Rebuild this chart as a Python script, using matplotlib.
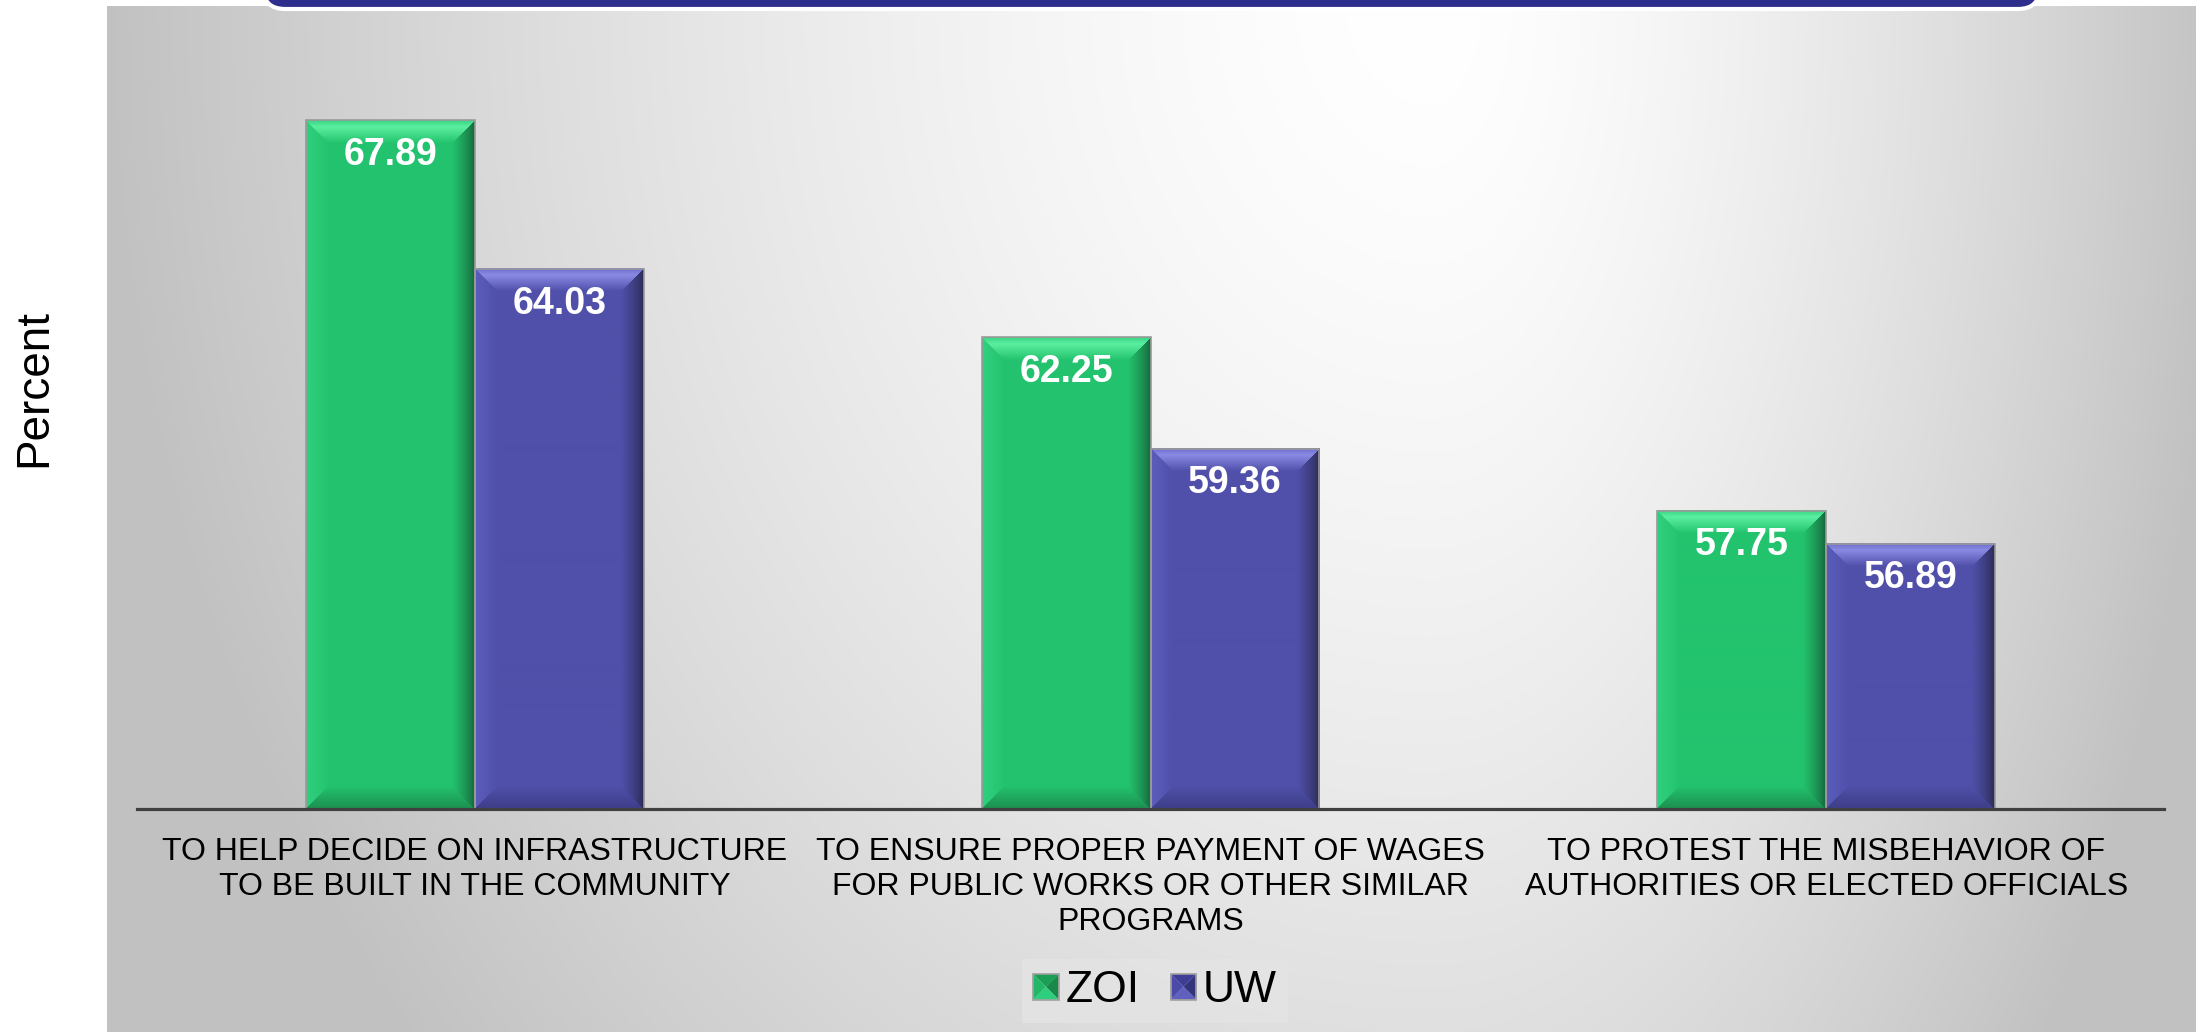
import numpy as np
import matplotlib
matplotlib.use('Agg')
import matplotlib.pyplot as plt
from matplotlib.patches import Polygon, FancyBboxPatch, Rectangle
from matplotlib.legend_handler import HandlerBase
from matplotlib.colors import to_rgb

# ---------------- data ----------------
categories = ["TO HELP DECIDE ON INFRASTRUCTURE\nTO BE BUILT IN THE COMMUNITY",
              "TO ENSURE PROPER PAYMENT OF WAGES\nFOR PUBLIC WORKS OR OTHER SIMILAR\nPROGRAMS",
              "TO PROTEST THE MISBEHAVIOR OF\nAUTHORITIES OR ELECTED OFFICIALS"]
series_names = ["ZOI", "UW"]
zoi_values = [67.89, 62.25, 57.75]
uw_values = [64.03, 59.36, 56.89]
y_label = "Percent"

plt.rcParams['font.family'] = ['Liberation Sans', 'DejaVu Sans']

W, H = 2196, 1032
fig = plt.figure(figsize=(W / 100, H / 100), dpi=100)
fig.patch.set_facecolor('white')

# ---------------- background panel with gradient ----------------
px0, ptop = 107, 6
bg = fig.add_axes([px0 / W, 0, 1 - px0 / W, 1 - ptop / H])
xs = np.arange(px0, W)
ys = np.arange(ptop, H)
X, Y = np.meshgrid(xs, ys)
cx = 1430
dx = np.where(X < cx, (cx - X) / 1330.0, (X - cx) / 800.0)
dy = Y / 1032.0 * 0.63
d = np.clip(np.sqrt(dx ** 2 + dy ** 2), 0, 1)
val = (255 - 62 * d ** 1.5) / 255.0
img = np.dstack([val] * 3)
bg.imshow(img, aspect='auto', extent=[0, 1, 0, 1], interpolation='bilinear')
bg.axis('off')

# ---------------- title box (cut off at top) ----------------
tb = FancyBboxPatch((263 / 100, (H - 9) / 100), (2040 - 263) / 100, 1.0,
                    boxstyle="round,pad=0,rounding_size=0.22",
                    transform=fig.dpi_scale_trans, facecolor='#2E2E8C',
                    edgecolor='white', linewidth=3, zorder=5)
fig.add_artist(tb)

# ---------------- main axes ----------------
ax = fig.add_axes([137 / W, 1 - 809 / H, (2164 - 137) / W, (809 - 39) / H])
ax.set_facecolor('none')
ymin, ymax = 50, 70
ax.set_xlim(-0.5, 2.5)
ax.set_ylim(ymin, ymax)

x = np.arange(len(categories))
bw = 0.25
green = dict(base='#23C36E', top0='#38D483', topHi='#5BEFA0', right='#155F37',
             bottom='#1C8E50', left='#30D07F')
blue = dict(base='#5050AA', top0='#6A6ACB', topHi='#8A8AE4', right='#28284F',
            bottom='#3D3D88', left='#5C5CBC')

bars_zoi = ax.bar(x - bw / 2, zoi_values, bw, bottom=0, color=green['base'],
                  edgecolor='none', zorder=2)
bars_uw = ax.bar(x + bw / 2, uw_values, bw, bottom=0, color=blue['base'],
                 edgecolor='none', zorder=2)

BEV = 23  # bevel size in pixels


def lerp(c0, c1, t):
    c0 = np.array(to_rgb(c0)); c1 = np.array(to_rgb(c1))
    return c0[None, None, :] * (1 - t[..., None]) + c1[None, None, :] * t[..., None]


def bevel_image(bar, cols):
    x0 = bar.get_x()
    x1 = x0 + bar.get_width()
    y0 = ymin
    y1 = bar.get_height()
    p0 = ax.transData.transform((x0, y0))
    p1 = ax.transData.transform((x1, y1))
    wpx = int(round(p1[0] - p0[0]))
    hpx = int(round(p1[1] - p0[1]))
    u = np.arange(wpx) + 0.5
    v = np.arange(hpx) + 0.5  # from top
    U, V = np.meshgrid(u, v)
    dl, dr, dt, db = U, wpx - U, V, hpx - V
    stack = np.stack([dt, dr, db, dl])
    which = np.argmin(stack, axis=0)
    dmin = np.min(stack, axis=0)
    t = np.clip(dmin / BEV, 0, 1)
    base = np.array(to_rgb(cols['base']))
    out = np.broadcast_to(base, (hpx, wpx, 3)).copy()
    tt = np.where(t < 0.3, t / 0.3, 0)
    top_col = np.where((t < 0.3)[..., None], lerp(cols['top0'], cols['topHi'], tt),
                       lerp(cols['topHi'], cols['base'], np.clip((t - 0.3) / 0.7, 0, 1)))
    right_col = lerp(cols['right'], cols['base'], t ** 0.7)
    bottom_col = lerp(cols['bottom'], cols['base'], t)
    left_col = lerp(cols['left'], cols['base'], t)
    inb = dmin < BEV
    for k, cc in enumerate([top_col, right_col, bottom_col, left_col]):
        m = inb & (which == k)
        out[m] = cc[m]
    ax.imshow(out, extent=[x0, x1, y0, y1], aspect='auto', zorder=3,
              interpolation='bilinear')
    ax.add_patch(Rectangle((x0, y0), x1 - x0, y1 - y0, facecolor='none',
                           edgecolor='#9A9A9A', linewidth=1.2, zorder=4))


for b in bars_zoi:
    bevel_image(b, green)
for b in bars_uw:
    bevel_image(b, blue)
ax.set_xlim(-0.5, 2.5)
ax.set_ylim(ymin, ymax)

for bars, vals in ((bars_zoi, zoi_values), (bars_uw, uw_values)):
    for b, v in zip(bars, vals):
        ax.annotate(f"{v:.2f}", (b.get_x() + b.get_width() / 2, v),
                    xytext=(0, -25), textcoords='offset points',
                    ha='center', va='center', color='white',
                    fontsize=27, fontweight='bold', zorder=6)

for s in ('top', 'right', 'left'):
    ax.spines[s].set_visible(False)
ax.spines['bottom'].set_color('#404040')
ax.spines['bottom'].set_linewidth(2.3)
ax.spines['bottom'].set_zorder(5)
ax.set_yticks([])
ax.set_xticks(x)
ax.set_xticklabels(categories, fontsize=23, linespacing=1.22, color='black')
ax.tick_params(axis='x', length=0, pad=20)

fig.text(34 / W, 1 - 388 / H, y_label, rotation=90, fontsize=33,
         ha='center', va='center', color='black')


# ---------------- legend with bevelled squares ----------------
class BevelHandler(HandlerBase):
    def __init__(self, cols):
        super().__init__()
        self.cols = cols

    def create_artists(self, legend, orig_handle, xdescent, ydescent, width,
                       height, fontsize, trans):
        s = min(width, height)
        x0 = -xdescent + (width - s) / 2
        y0 = -ydescent + (height - s) / 2
        x1, y1 = x0 + s, y0 + s
        cxm, cym = (x0 + x1) / 2, (y0 + y1) / 2
        c = self.cols
        tris = [
            ([(x0, y1), (x1, y1), (cxm, cym)], c['top']),
            ([(x1, y1), (x1, y0), (cxm, cym)], c['right']),
            ([(x0, y0), (x1, y0), (cxm, cym)], c['bottom']),
            ([(x0, y0), (x0, y1), (cxm, cym)], c['left']),
        ]
        arts = []
        for pts, col in tris:
            arts.append(Polygon(pts, closed=True, facecolor=col, edgecolor='none',
                                transform=trans))
        arts.append(Rectangle((x0, y0), s, s, facecolor='none', edgecolor='#A0A0A0',
                              linewidth=1.2, transform=trans))
        return arts


h1 = Rectangle((0, 0), 1, 1, facecolor=green['base'])
h2 = Rectangle((0, 0), 1, 1, facecolor=blue['base'])
leg_green = dict(top='#1A9E55', right='#178A4A', bottom='#2ECF7C', left='#22B868')
leg_blue = dict(top='#3E3E96', right='#34347C', bottom='#6060BE', left='#4A4AAA')
leg = fig.legend([h1, h2], series_names, loc='center',
                 bbox_to_anchor=(1155 / W, 1 - 991 / H), ncol=2,
                 fontsize=32, frameon=True, fancybox=False,
                 handler_map={h1: BevelHandler(leg_green), h2: BevelHandler(leg_blue)},
                 handlelength=0.58, handleheight=0.58, handletextpad=0.15,
                 columnspacing=0.7, borderpad=0.25, borderaxespad=0)
leg.get_frame().set_facecolor('#E4E4E4')
leg.get_frame().set_edgecolor('none')

fig.savefig('out.png', dpi=100, facecolor=fig.get_facecolor())
